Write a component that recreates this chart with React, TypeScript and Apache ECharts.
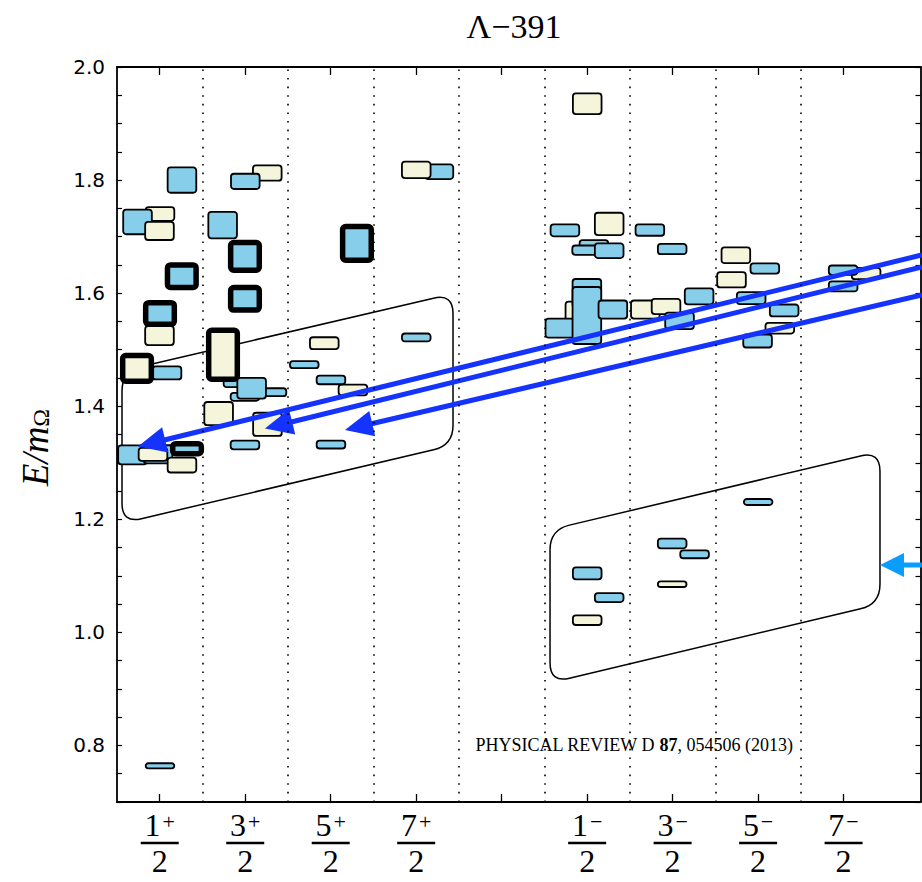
import React, { useEffect, useRef } from 'react';
import * as echarts from 'echarts';

// Energy levels: horizontal position, centre of the band, band height, style
// kind: b = blue, y = beige, B / Y = same colours with a heavy outline
const boxX = [
  0.503, 0.24, 0.497, 0.76, 0.758, 0.497, 0.503, 0.585, 0.234, 0.181, 0.48, 0.421, 0.76, 0.819, 0.503,
  1.758, 1.501, 1.236, 1.497, 1.497, 1.415, 1.24, 1.813, 1.497, 1.575, 1.189, 1.76, 1.497,
  2.425, 2.191, 2.76, 2.503, 2.503, 2.807,
  3.766, 3.501, 3.501,
  5.501, 5.24, 5.758, 5.579, 5.494, 5.758, 5.415, 5.181, 5.497, 5.497, 5.801,
  6.234, 6.495, 6.181, 6.423, 6.581, 6.81,
  7.24, 7.579, 7.189, 7.419, 7.805, 7.754, 7.494,
  8.764, 8.495, 8.495,
  5.501, 5.758, 5.501, 6.495, 6.757, 6.495, 7.501,
];
const boxY = [
  1.74, 1.726, 1.71, 1.8, 1.63, 1.525, 1.564, 1.459, 1.467, 1.314, 1.315, 1.315, 1.296, 1.325, 0.764,
  1.8124, 1.7977, 1.7204, 1.665, 1.59, 1.4407, 1.491, 1.4248, 1.4165, 1.4319, 1.387, 1.368, 1.3315,
  1.5115, 1.4735, 1.4288, 1.4466, 1.3322, 1.688,
  1.8147, 1.818, 1.5216,
  1.935, 1.711, 1.7225, 1.6864, 1.676, 1.675, 1.563, 1.538, 1.6, 1.5605, 1.571,
  1.7115, 1.678, 1.571, 1.5765, 1.551, 1.5943,
  1.667, 1.6437, 1.6236, 1.5912, 1.5694, 1.538, 1.5154,
  1.6348, 1.6407, 1.612,
  1.1044, 1.0616, 1.0216, 1.1572, 1.1381, 1.0853, 1.2306,
];
const boxH = [
  0.0242, 0.0437, 0.0319, 0.0448, 0.04, 0.0336, 0.0384, 0.023, 0.0453, 0.0336, 0.032, 0.023, 0.0265, 0.0177, 0.009,
  0.027, 0.027, 0.047, 0.049, 0.04, 0.014, 0.0867, 0.014, 0.014, 0.0366, 0.041, 0.041, 0.0154,
  0.021, 0.0124, 0.019, 0.0154, 0.014, 0.0596,
  0.026, 0.029, 0.014,
  0.0366, 0.021, 0.0395, 0.0147, 0.0165, 0.026, 0.0437, 0.0336, 0.05, 0.1008, 0.032,
  0.02, 0.018, 0.032, 0.027, 0.029, 0.028,
  0.028, 0.018, 0.027, 0.021, 0.021, 0.019, 0.023,
  0.02, 0.0165, 0.018,
  0.021, 0.016, 0.017, 0.017, 0.014, 0.01, 0.0106,
];
const boxKind = [
  'y', 'b', 'y', 'b', 'B', 'y', 'B', 'b', 'Y', 'b', 'b', 'y', 'y', 'B', 'b',
  'y', 'b', 'b', 'B', 'B', 'b', 'Y', 'b', 'b', 'b', 'y', 'y', 'b',
  'y', 'b', 'y', 'b', 'b', 'B',
  'b', 'y', 'b',
  'y', 'b', 'y', 'b', 'b', 'b', 'y', 'b', 'b', 'b', 'b',
  'b', 'b', 'y', 'y', 'b', 'b',
  'y', 'b', 'y', 'b', 'b', 'y', 'b',
  'y', 'b', 'b',
  'b', 'b', 'y', 'b', 'b', 'y', 'b',
];

// J^P channels along the horizontal axis
const channelTicks = [0.5, 1.5, 2.5, 3.5, 4.5, 5.5, 6.5, 7.5, 8.5];
const labelTicks = [0.5, 1.5, 2.5, 3.5, 5.5, 6.5, 7.5, 8.5];
const labelNum = ['1', '3', '5', '7', '1', '3', '5', '7'];
const labelSign = ['+', '+', '+', '+', '\u2212', '\u2212', '\u2212', '\u2212'];
const dividers = [1, 2, 3, 4, 5, 6, 7, 8];

// Outlined bands (corner points, clockwise from top-left)
const bandUpperX = [0.0585, 3.931, 3.931, 0.0585];
const bandUpperY = [1.4623, 1.5992, 1.3311, 1.193];
const bandLowerX = [5.066, 8.926, 8.926, 5.066];
const bandLowerY = [1.1815, 1.3203, 1.0499, 0.9107];

// Arrows coming in from the right
const arrowFromX = [9.415, 9.415, 9.415];
const arrowFromY = [1.6675, 1.6463, 1.5967];
const arrowToX = [0.2456, 1.731, 2.667];
const arrowToY = [1.3288, 1.3606, 1.358];
const sideArrowFromX = [9.415];
const sideArrowFromY = [1.1192];
const sideArrowToX = [8.926];
const sideArrowToY = [1.1192];

const BOX_WIDTH = 0.335;
const BLUE = '#87ceeb';
const BEIGE = '#f5f5dc';
const SERIF = "'Liberation Serif', 'DejaVu Serif', serif";

function roundedOutline(pts: number[][], r: number): string {
  const n = pts.length;
  let d = '';
  for (let i = 0; i < n; i++) {
    const p0 = pts[(i - 1 + n) % n];
    const p1 = pts[i];
    const p2 = pts[(i + 1) % n];
    const l1 = Math.hypot(p0[0] - p1[0], p0[1] - p1[1]);
    const l2 = Math.hypot(p2[0] - p1[0], p2[1] - p1[1]);
    const a = [p1[0] + ((p0[0] - p1[0]) / l1) * r, p1[1] + ((p0[1] - p1[1]) / l1) * r];
    const b = [p1[0] + ((p2[0] - p1[0]) / l2) * r, p1[1] + ((p2[1] - p1[1]) / l2) * r];
    d += `${i === 0 ? 'M' : 'L'}${a[0]},${a[1]} Q${p1[0]},${p1[1]} ${b[0]},${b[1]} `;
  }
  return d + 'Z';
}

function arrowShape(p0: number[], p1: number[], color: string, w: number, L: number, W: number) {
  const dx = p1[0] - p0[0];
  const dy = p1[1] - p0[1];
  const len = Math.hypot(dx, dy);
  const ux = dx / len;
  const uy = dy / len;
  const nx = -uy;
  const ny = ux;
  const bx = p1[0] - ux * L;
  const by = p1[1] - uy * L;
  return {
    type: 'group',
    children: [
      {
        type: 'line',
        shape: { x1: p0[0], y1: p0[1], x2: bx + ux * 3, y2: by + uy * 3 },
        style: { stroke: color, lineWidth: w },
      },
      {
        type: 'polygon',
        shape: { points: [[p1[0], p1[1]], [bx + nx * W, by + ny * W], [bx - nx * W, by - ny * W]] },
        style: { fill: color },
      },
    ],
  };
}

function xLabel(v: number): string {
  const i = labelTicks.findIndex((t) => Math.abs(t - v) < 1e-6);
  if (i < 0) return '';
  return `{n|${labelNum[i]}}{s|${labelSign[i]}}\n{bar| }\n{d|2}`;
}

export default function App() {
  const ref = useRef<HTMLDivElement>(null);

  useEffect(() => {
    const chart = echarts.init(ref.current!, null, { renderer: 'svg' });

    const bands = [
      bandUpperX.map((x, i) => [x, bandUpperY[i]]),
      bandLowerX.map((x, i) => [x, bandLowerY[i]]),
    ];

    const xCommon = {
      type: 'value',
      min: 0,
      max: 9.4,
      axisLine: { show: true, onZero: false, lineStyle: { color: '#000', width: 1.8 } },
      splitLine: { show: false },
    };
    const yCommon = {
      type: 'value',
      min: 0.7,
      max: 2.0,
      interval: 0.05,
      axisLine: { show: true, onZero: false, lineStyle: { color: '#000', width: 1.8 } },
      axisTick: { show: true, inside: true, length: 5, lineStyle: { color: '#000', width: 1.2 } },
      splitLine: { show: false },
    };

    chart.setOption({
      animation: false,
      backgroundColor: '#fff',
      grid: { left: 117, right: 1.5, top: 67, bottom: 80 },
      xAxis: [
        {
          ...xCommon,
          position: 'bottom',
          axisTick: {
            show: true,
            inside: true,
            length: 8,
            customValues: channelTicks,
            lineStyle: { color: '#000', width: 1.3 },
          },
          axisLabel: {
            show: true,
            customValues: labelTicks,
            margin: 8,
            formatter: xLabel,
            color: '#000',
            rich: {
              n: { fontFamily: SERIF, fontSize: 32, lineHeight: 30, color: '#000' },
              s: { fontFamily: SERIF, fontSize: 22, lineHeight: 14, verticalAlign: 'top', color: '#000', padding: [0, 0, 0, 2] },
              bar: { width: 38, height: 2.5, lineHeight: 6, backgroundColor: '#000', fontSize: 2 },
              d: { fontFamily: SERIF, fontSize: 32, lineHeight: 30, color: '#000' },
            },
          },
        },
        {
          ...xCommon,
          position: 'top',
          axisTick: {
            show: true,
            inside: true,
            length: 8,
            customValues: channelTicks,
            lineStyle: { color: '#000', width: 1.3 },
          },
          axisLabel: { show: false },
        },
      ],
      yAxis: [
        {
          ...yCommon,
          position: 'left',
          axisLabel: {
            show: true,
            margin: 12,
            color: '#000',
            fontFamily: "'DejaVu Sans', sans-serif",
            fontSize: 20,
            formatter: (v: number) =>
              Math.abs(v * 5 - Math.round(v * 5)) < 1e-6 ? v.toFixed(1) : '',
          },
          name: '{e|E/m}{o|\u03a9}',
          nameLocation: 'middle',
          nameRotate: 90,
          nameGap: 64,
          nameTextStyle: {
            padding: [0, 26, 0, 0],
            rich: {
              e: { fontFamily: SERIF, fontStyle: 'italic', fontSize: 37, lineHeight: 36, color: '#000' },
              o: { fontFamily: SERIF, fontSize: 24, lineHeight: 17, verticalAlign: 'bottom', color: '#000' },
            },
          },
        },
        {
          ...yCommon,
          position: 'right',
          axisLabel: { show: false },
        },
      ],
      graphic: [
        {
          type: 'text',
          x: 514,
          y: 26,
          style: {
            text: '\u039b\u2212391',
            font: `34px ${SERIF}`,
            fill: '#000',
            textAlign: 'center',
            textVerticalAlign: 'middle',
          },
        },
        {
          type: 'text',
          x: 634,
          y: 745,
          z: 5,
          style: {
            text: 'PHYSICAL REVIEW D {b|87}, 054506 (2013)',
            font: `18px ${SERIF}`,
            fill: '#000',
            textAlign: 'center',
            textVerticalAlign: 'middle',
            rich: { b: { fontWeight: 'bold', fontFamily: SERIF, fontSize: 18 } },
          },
        },
      ],
      series: [
        {
          type: 'line',
          data: [],
          silent: true,
          z: 1,
          markLine: {
            silent: true,
            symbol: 'none',
            label: { show: false },
            lineStyle: { color: '#000', width: 1.6, type: [1.6, 7] },
            data: dividers.map((v) => ({ xAxis: v })),
          },
        },
        {
          type: 'custom',
          z: 2,
          silent: true,
          clip: false,
          data: bands.map((_, i) => [i]),
          renderItem: (params: any, api: any) => {
            const pts = bands[params.dataIndex].map((p) => api.coord(p));
            return {
              type: 'path',
              shape: { pathData: roundedOutline(pts, 20) },
              style: { fill: 'none', stroke: '#000', lineWidth: 1.5 },
            };
          },
        },
        {
          type: 'custom',
          z: 3,
          silent: true,
          encode: { x: 0, y: 1 },
          data: boxX.map((x, i) => [x, boxY[i], boxH[i]]),
          renderItem: (params: any, api: any) => {
            const i = params.dataIndex;
            const c = api.coord([api.value(0), api.value(1)]);
            const s = api.size([BOX_WIDTH, api.value(2)]);
            const kind = boxKind[i];
            const heavy = kind === 'B' || kind === 'Y';
            return {
              type: 'rect',
              shape: { x: c[0] - s[0] / 2, y: c[1] - s[1] / 2, width: s[0], height: s[1], r: 3 },
              style: {
                fill: kind === 'b' || kind === 'B' ? BLUE : BEIGE,
                stroke: '#000',
                lineWidth: heavy ? 5.5 : 1.8,
              },
            };
          },
        },
        {
          type: 'custom',
          z: 4,
          silent: true,
          clip: false,
          data: arrowFromX.map((x, i) => [x, arrowFromY[i]]),
          renderItem: (params: any, api: any) => {
            const i = params.dataIndex;
            const p0 = api.coord([arrowFromX[i], arrowFromY[i]]);
            const p1 = api.coord([arrowToX[i], arrowToY[i]]);
            return arrowShape(p0, p1, '#1533ff', 5, 28, 13);
          },
        },
        {
          type: 'custom',
          z: 4,
          silent: true,
          clip: false,
          data: sideArrowFromX.map((x, i) => [x, sideArrowFromY[i]]),
          renderItem: (params: any, api: any) => {
            const i = params.dataIndex;
            const p0 = api.coord([sideArrowFromX[i], sideArrowFromY[i]]);
            const p1 = api.coord([sideArrowToX[i], sideArrowToY[i]]);
            return arrowShape(p0, p1, '#0b9cff', 5, 24, 12);
          },
        },
      ],
    });

    return () => chart.dispose();
  }, []);

  return (
    <div
      ref={ref}
      style={{ position: 'fixed', left: 0, top: 0, width: 922, height: 882, background: '#fff' }}
    />
  );
}
